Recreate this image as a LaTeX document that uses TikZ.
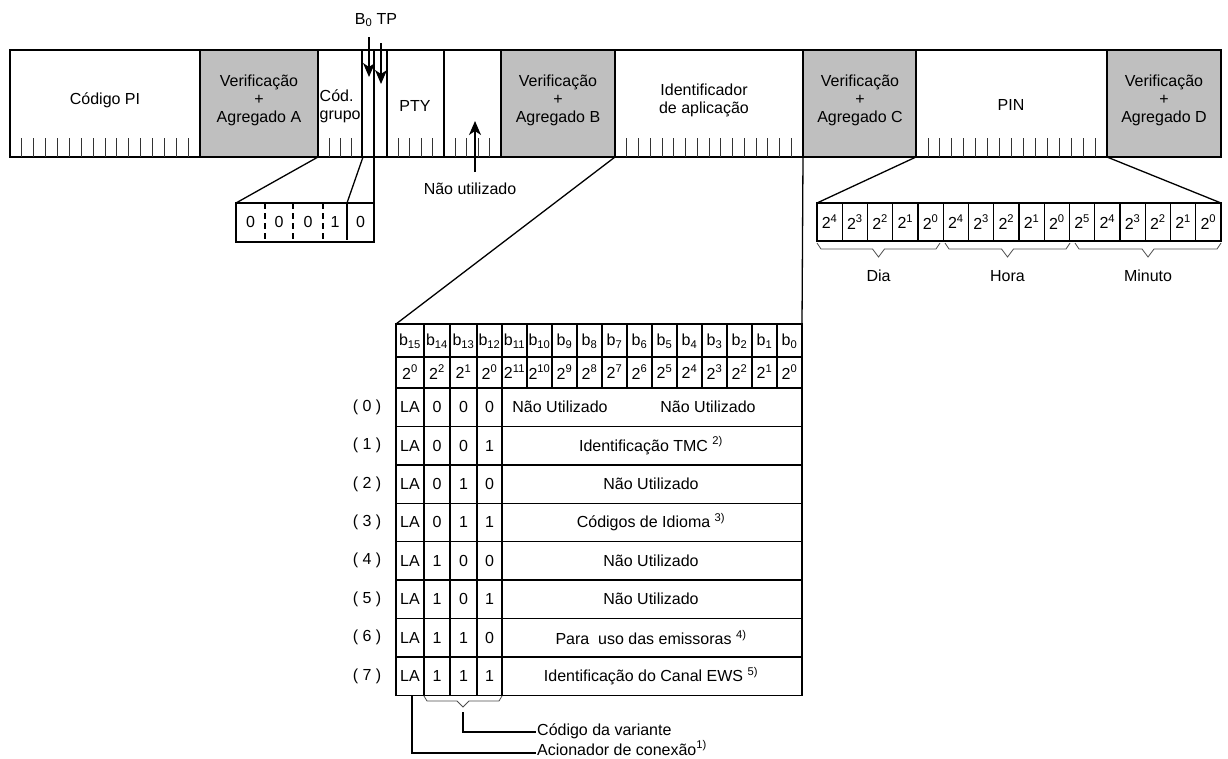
\documentclass[tikz,border=0pt]{standalone}
\usepackage{fontspec}
\setmainfont{Liberation Sans}
\usetikzlibrary{arrows.meta}
\begin{document}
\begin{tikzpicture}[x=1pt,y=-1pt,
  every node/.style={font=\fontsize{16}{18}\selectfont, inner sep=1pt},
  frame/.style={line width=1.4pt},
  tickmark/.style={line width=0.8pt, draw=black!80},
  conn/.style={line width=1.3pt},
  brc/.style={line width=0.8pt, draw=black!70},
  arr/.style={line width=1.4pt, -{Stealth[length=14pt,width=12pt,inset=4pt]}},
  txt/.style={align=center},
]
\useasboundingbox (0,0) rectangle (1228,758);

% ---------- main bar ----------
\foreach \a/\b in {200/318,501/615,803/916,1107/1221}
  \fill[black!25] (\a,50) rectangle (\b,157);
\draw[frame] (10,50) rectangle (1221,157);
\foreach \x in {200,318,362,374,387,444,501,615,803,916,1107}
  \draw[frame] (\x,50) -- (\x,157);
% ticks
\foreach \i in {1,...,15} {
  \draw[tickmark] ({10+\i*190/16},138) -- ++(0,19);
  \draw[tickmark] ({615+\i*188/16},138) -- ++(0,19);
  \draw[tickmark] ({916+\i*191/16},138) -- ++(0,19);
}
\foreach \i in {1,2,3} \draw[tickmark] ({318+\i*11},138) -- ++(0,19);
\foreach \i in {1,...,4} {
  \draw[tickmark] ({387+\i*11.4},138) -- ++(0,19);
  \draw[tickmark] ({444+\i*11.4},138) -- ++(0,19);
}

\node (pi)   at (105,100) {Código PI};
\node[txt] (va) at (259,100) {Verificação\\+\\Agregado A};
\node[align=left, anchor=west] (grp) at (318.5,106) {Cód.\\grupo};
\node (pty)  at (415,106) {PTY};
\node[txt] (vb) at (558,100) {Verificação\\+\\Agregado B};
\node[txt] (ida) at (704,100) {Identificador\\de aplicação};
\node[txt] (vc) at (860,100) {Verificação\\+\\Agregado C};
\node (pin)  at (1011,105) {PIN};
\node[txt] (vd) at (1164,100) {Verificação\\+\\Agregado D};

% B0 TP
\node (b0tp) at (376,20) {B\textsubscript{0} TP};
\coordinate (b0s) at (369,37);  \coordinate (b0e) at (369,77);
\coordinate (tps) at (381,43);  \coordinate (tpe) at (381,84);
\draw[arr] (b0s) -- (b0e);
\draw[arr] (tps) -- (tpe);

% Nao utilizado
\node (nu) at (470,189) {Não utilizado};
\coordinate (nus) at (475,172); \coordinate (nue) at (475,121);
\draw[arr] (nus) -- (nue);

% ---------- group code box ----------
\draw[frame] (236,203) rectangle (374,242);
\foreach \x in {265,293,323}
  \draw[frame, dash pattern=on 6pt off 4pt] (\x,203) -- (\x,242);
\draw[frame] (347,203) -- (347,240);
\foreach \x/\v in {250.5/0,279/0,308/0,335/1,360.5/0}
  \node at (\x,222) {\v};
\coordinate (ga) at (318,157); \coordinate (gb) at (236,203);
\coordinate (gc) at (363,157); \coordinate (gd) at (347,203);
\coordinate (ge) at (374,157); \coordinate (gf) at (374,203);
\draw[conn] (ga) -- (gb);
\draw[conn] (gc) -- (gd);
\draw[conn] (ge) -- (gf);

% ---------- PIN box ----------
\draw[frame] (817,203) rectangle (1221,241);
\foreach \i in {1,...,15} \draw[frame] ({817+\i*25.25},203) -- ++(0,38);
\foreach \i/\e in {0/4,1/3,2/2,3/1,4/0,5/4,6/3,7/2,8/1,9/0,10/5,11/4,12/3,13/2,14/1,15/0}
  \node at ({817+(\i+0.5)*25.25},222) {2\textsuperscript{\e}};
\coordinate (pa) at (916,157); \coordinate (pb) at (817,203);
\coordinate (pc) at (1107,157); \coordinate (pd) at (1221,203);
\draw[conn] (pa) -- (pb);
\draw[conn] (pc) -- (pd);
\foreach \a/\b/\lab in {817/940/Dia,945/1070/Hora,1075/1221/Minuto} {
  \pgfmathsetmacro\m{(\a+\b)/2}
  \draw[brc] (\a,243) -- (\a+4,249) -- (\m-6,249) -- (\m,257) -- (\m+6,249) -- (\b-4,249) -- (\b,243);
  \node at (\m,276) {\lab};
}

% ---------- table ----------
\coordinate (ta) at (615,157); \coordinate (tb) at (396,324);
\coordinate (tc) at (803,157); \coordinate (td) at (802,324);
\draw[conn] (ta) -- (tb);
\draw[conn] (tc) -- (td);

\draw[frame] (396,324) rectangle (802,388);
\draw[frame] (396,357) -- (802,357);
\foreach \i/\a/\b/\s/\p in {0/396/424/15/0,1/424/450/14/2,2/450/477/13/1,3/477/502/12/0,
  4/502/527/11/11,5/527/552/10/10,6/552/577/9/9,7/577/602/8/8,8/602/627/7/7,9/627/652/6/6,
  10/652/677/5/5,11/677/702/4/4,12/702/727/3/3,13/727/752/2/2,14/752/777/1/1,15/777/802/0/0} {
  \draw[frame] (\b,324) -- (\b,388);
  \node at ({(\a+\b)/2},341) {b\textsubscript{\s}};
  \node at ({(\a+\b)/2},372) {2\textsuperscript{\p}};
}

\foreach \r/\ba/\bb/\bc in {0/0/0/0,1/0/0/1,2/0/1/0,3/0/1/1,4/1/0/0,5/1/0/1,6/1/1/0,7/1/1/1} {
  \pgfmathsetmacro\ya{388+38.4*\r}
  \pgfmathsetmacro\yc{\ya+19.2}
  \draw[frame] (396,\ya) rectangle (802,\ya+38.4);
  \foreach \x in {424,450,477,502} \draw[frame] (\x,\ya) -- (\x,\ya+38.4);
  \node at (367,\yc) {( \r\ )};
  \node at (410,\yc) {LA};
  \node at (437,\yc) {\ba};
  \node at (463.5,\yc) {\bb};
  \node at (489.5,\yc) {\bc};
}
\node at (560,407.2) {Não Utilizado};
\node at (708,407.2) {Não Utilizado};
\node at (651,445.6) {Identificação TMC \textsuperscript{2)}};
\node at (651,484.0) {Não Utilizado};
\node at (651,522.4) {Códigos de Idioma \textsuperscript{3)}};
\node at (651,560.8) {Não Utilizado};
\node at (651,599.2) {Não Utilizado};
\node at (651,637.6) {Para\ \ uso das emissoras \textsuperscript{4)}};
\node at (651,676.0) {Identificação do Canal EWS \textsuperscript{5)}};

% bottom annotations
\draw[brc] (424,696) -- (427,701) -- (457,701) -- (463,707) -- (469,701) -- (499,701) -- (502,696);
\node[anchor=west] (cv) at (536,731) {Código da variante};
\node[anchor=west] (ac) at (536,748) {Acionador de conexão\textsuperscript{1)}};
\coordinate (cva) at (463,712);
\coordinate (aca) at (412,695);
\draw[conn] (cva) |- (cv.west |- 0,732);
\draw[conn] (aca) |- (ac.west |- 0,753);
\end{tikzpicture}
\end{document}
